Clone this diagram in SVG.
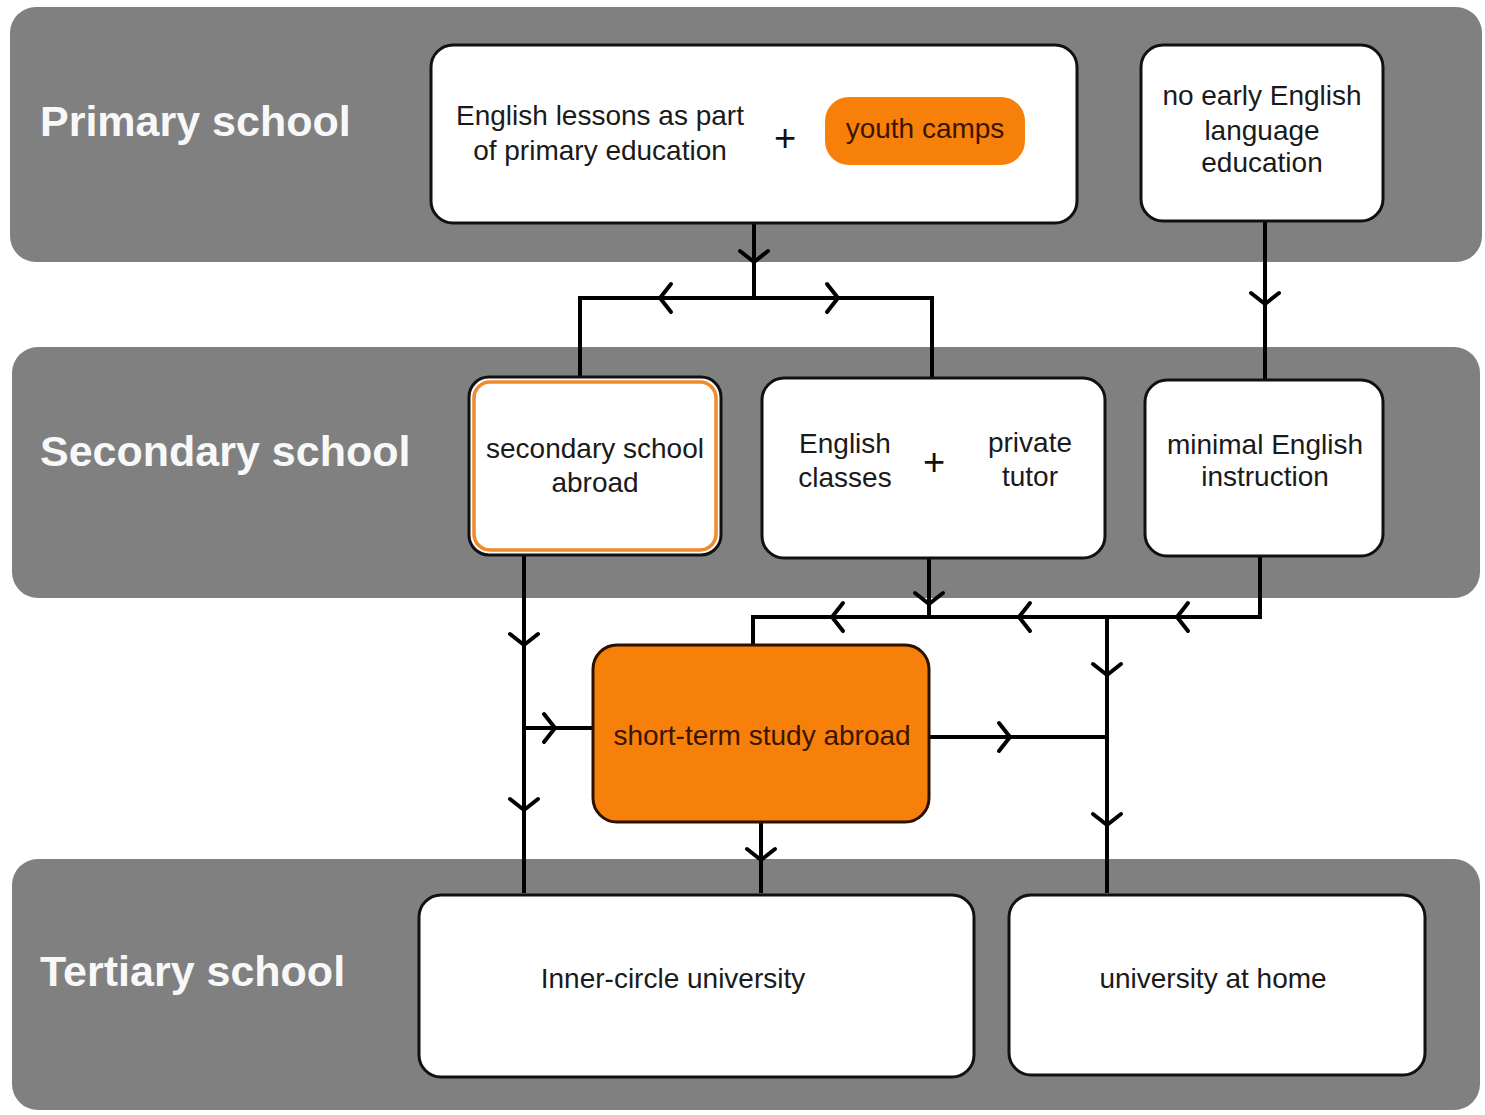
<svg xmlns="http://www.w3.org/2000/svg" width="1485" height="1115" viewBox="0 0 1485 1115">
<style>
.band{fill:#808080;}
.blabel{font-family:"Liberation Sans",Arial,sans-serif;font-weight:bold;font-size:43px;fill:#f8f8f8;}
.box{fill:#ffffff;stroke:#111;stroke-width:3;}
.obox{fill:#F7800A;stroke:#2a1200;stroke-width:3;}
.t{font-family:"Liberation Sans",Arial,sans-serif;font-size:28px;fill:#1a1a1a;text-anchor:middle;}
.to{font-family:"Liberation Sans",Arial,sans-serif;font-size:28px;fill:#3a1500;text-anchor:middle;}
.plus{font-family:"Liberation Sans",Arial,sans-serif;font-size:38px;fill:#111;text-anchor:middle;}
.ln{fill:none;stroke:#000;stroke-width:4;stroke-linejoin:miter;}
.ch{fill:none;stroke:#000;stroke-width:4;stroke-linecap:round;stroke-linejoin:miter;}
</style>
<defs>
<path id="chev" class="ch" d="M-11,-14 L0,0 L-11,14"/>
</defs>
<rect width="1485" height="1115" fill="#ffffff"/>
<g id="bands">
<rect class="band" x="10" y="7" width="1472" height="255" rx="26"/>
<rect class="band" x="12" y="347" width="1468" height="251" rx="26"/>
<rect class="band" x="12" y="859" width="1468" height="251" rx="26"/>
<text class="blabel" x="40" y="136">Primary school</text>
<text class="blabel" x="40" y="466">Secondary school</text>
<text class="blabel" x="40" y="986">Tertiary school</text>
</g>
<g id="connectors">
<path class="ln" d="M754,223 V298 M580,377 V298 H932 V378"/>
<path class="ln" d="M1265,221 V380"/>
<path class="ln" d="M524,555 V893 M524,728 H593"/>
<path class="ln" d="M929,558 V617 M753,645 V617 H1260 V556"/>
<path class="ln" d="M1107,617 V893 M929,737 H1107"/>
<path class="ln" d="M761,822 V893"/>
<use href="#chev" transform="translate(754,262) rotate(90)"/>
<use href="#chev" transform="translate(660,298) rotate(180)"/>
<use href="#chev" transform="translate(838,298)"/>
<use href="#chev" transform="translate(1265,304) rotate(90)"/>
<use href="#chev" transform="translate(524,645) rotate(90)"/>
<use href="#chev" transform="translate(524,810) rotate(90)"/>
<use href="#chev" transform="translate(555,728)"/>
<use href="#chev" transform="translate(929,604) rotate(90)"/>
<use href="#chev" transform="translate(832,617) rotate(180)"/>
<use href="#chev" transform="translate(1019,617) rotate(180)"/>
<use href="#chev" transform="translate(1177,617) rotate(180)"/>
<use href="#chev" transform="translate(1107,675) rotate(90)"/>
<use href="#chev" transform="translate(1107,825) rotate(90)"/>
<use href="#chev" transform="translate(1010,737)"/>
<use href="#chev" transform="translate(761,860) rotate(90)"/>
</g>
<g id="node-primary-lessons">
<rect class="box" x="431" y="45" width="646" height="178" rx="22"/>
<text class="t" x="600" y="125">English lessons as part</text>
<text class="t" x="600" y="160">of primary education</text>
<text class="plus" x="785" y="151">+</text>
</g>
<g id="node-youth-camps">
<rect x="825" y="97" width="200" height="68" rx="24" fill="#F7800A"/>
<text class="to" x="925" y="138">youth camps</text>
</g>
<g id="node-no-early">
<rect class="box" x="1141" y="45" width="242" height="176" rx="22"/>
<text class="t" x="1262" y="105">no early English</text>
<text class="t" x="1262" y="140">language</text>
<text class="t" x="1262" y="172">education</text>
</g>
<g id="node-secondary-abroad">
<rect class="box" x="469" y="377" width="252" height="178" rx="20"/>
<rect x="474" y="382" width="242" height="168" rx="16" fill="none" stroke="#F08A2A" stroke-width="3.5"/>
<text class="t" x="595" y="458">secondary school</text>
<text class="t" x="595" y="492">abroad</text>
</g>
<g id="node-english-classes">
<rect class="box" x="762" y="378" width="343" height="180" rx="22"/>
<text class="t" x="845" y="453">English</text>
<text class="t" x="845" y="487">classes</text>
<text class="plus" x="934" y="475">+</text>
<text class="t" x="1030" y="452">private</text>
<text class="t" x="1030" y="486">tutor</text>
</g>
<g id="node-minimal">
<rect class="box" x="1145" y="380" width="238" height="176" rx="22"/>
<text class="t" x="1265" y="454">minimal English</text>
<text class="t" x="1265" y="486">instruction</text>
</g>
<g id="node-short-term">
<rect class="obox" x="593" y="645" width="336" height="177" rx="24"/>
<text class="to" x="762" y="745">short-term study abroad</text>
</g>
<g id="node-inner-circle">
<rect class="box" x="419" y="895" width="555" height="182" rx="22"/>
<text class="t" x="673" y="988">Inner-circle university</text>
</g>
<g id="node-home">
<rect class="box" x="1009" y="895" width="416" height="180" rx="22"/>
<text class="t" x="1213" y="988">university at home</text>
</g>
</svg>
